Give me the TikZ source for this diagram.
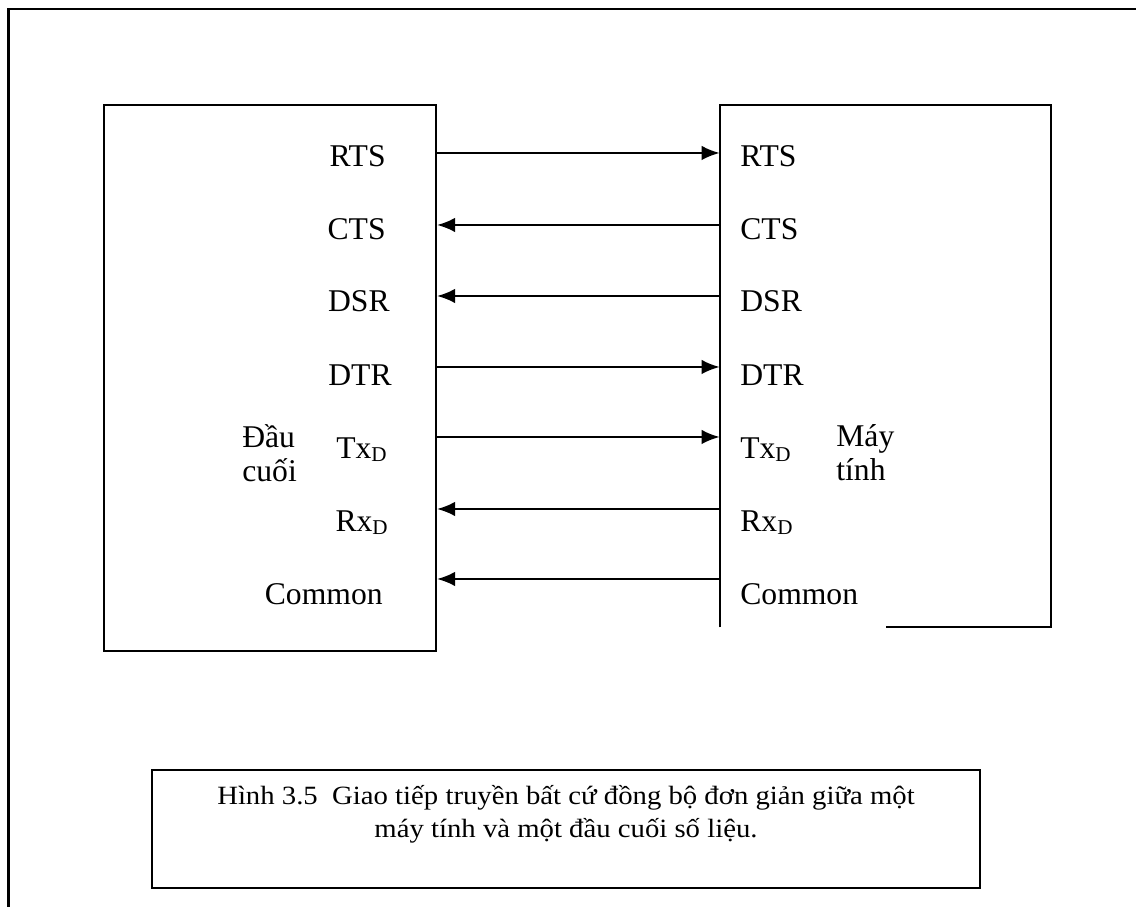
\documentclass[tikz,border=0pt]{standalone}
\usepackage{fontspec}
\setmainfont{Liberation Serif}
\newfontfamily\didafont[FakeStretch=1.09]{Liberation Serif}
\usetikzlibrary{arrows.meta}

% pedice delle linee dati (Tx, Rx)
\newcommand{\pedice}[1]{\raisebox{-1.7pt}{\fontsize{12}{12}\selectfont #1}}

\begin{document}
\begin{tikzpicture}[
    linea/.style={line width=1.2pt},
    freccia/.style={linea,-{Latex[length=3.6mm,width=2.9mm]}},
    segnale/.style={inner sep=0pt,font=\fontsize{18}{22}\selectfont},
    sx/.style={segnale,anchor=base east},
    dx/.style={segnale,anchor=base west},
    blocco/.style={segnale,anchor=west,align=left,font=\fontsize{18}{19.3}\selectfont},
  ]
  \useasboundingbox (0,0) rectangle (22.72,18.14);

  %%%%%%%%%% Cornice %%%%%%%%%%
  \draw[linea] (22.72,17.96) -- (0.17,17.96) -- (0.17,0);

  %%%%%%%%%% Blocchi %%%%%%%%%%
  \node[linea,draw,minimum width=6.64cm,minimum height=10.92cm,inner sep=0pt] (term) at (5.4,10.58) {};
  \node[minimum width=6.62cm,minimum height=10.44cm,inner sep=0pt] (pc) at (17.71,10.82) {};
  \draw[linea] (pc.south west) -- (pc.north west) -- (pc.north east) -- (pc.south east) -- ++(-3.3,0);

  \node[blocco] (dau) at (4.84,9.08) {Đầu\\cuối};
  \node[blocco] (may) at (16.72,9.08) {Máy\\tính};

  %%%%%%%%%% Livelli %%%%%%%%%%
  \coordinate (rts) at (0,15.08);
  \coordinate (cts) at (0,13.64);
  \coordinate (dsr) at (0,12.22);
  \coordinate (dtr) at (0,10.80);
  \coordinate (txd) at (0,9.40);
  \coordinate (rxd) at (0,7.96);
  \coordinate (com) at (0,6.56);

  %%%%%%%%%% Etichette %%%%%%%%%%
  \node[sx] (rts-t) at (7.72,14.80) {RTS};
  \node[sx] (cts-t) at (7.72,13.34) {CTS};
  \node[sx] (dsr-t) at (7.80,11.90) {DSR};
  \node[sx] (dtr-t) at (7.84,10.42) {DTR};
  \node[sx] (txd-t) at (7.74,8.96) {Tx\pedice{D}};
  \node[sx] (rxd-t) at (7.76,7.50) {Rx\pedice{D}};
  \node[sx] (com-t) at (7.66,6.04) {Common};

  \node[dx] (rts-c) at (14.80,14.80) {RTS};
  \node[dx] (cts-c) at (14.80,13.34) {CTS};
  \node[dx] (dsr-c) at (14.80,11.90) {DSR};
  \node[dx] (dtr-c) at (14.80,10.42) {DTR};
  \node[dx] (txd-c) at (14.80,8.96) {Tx\pedice{D}};
  \node[dx] (rxd-c) at (14.80,7.50) {Rx\pedice{D}};
  \node[dx] (com-c) at (14.80,6.04) {Common};

  %%%%%%%%%% Frecce %%%%%%%%%%
  \draw[freccia] (term.east |- rts) -- (pc.west |- rts);
  \draw[freccia] (pc.west |- cts) -- (term.east |- cts);
  \draw[freccia] (pc.west |- dsr) -- (term.east |- dsr);
  \draw[freccia] (term.east |- dtr) -- (pc.west |- dtr);
  \draw[freccia] (term.east |- txd) -- (pc.west |- txd);
  \draw[freccia] (pc.west |- rxd) -- (term.east |- rxd);
  \draw[freccia] (pc.west |- com) -- (term.east |- com);

  %%%%%%%%%% Didascalia %%%%%%%%%%
  \node[linea,draw,minimum width=16.56cm,minimum height=2.36cm,inner sep=0pt] (didascalia) at (11.32,1.56) {};
  \node[anchor=north,align=center,inner sep=0pt,font=\didafont\fontsize{15}{18.8}\selectfont] (testo) at (11.32,2.44)
    {Hình 3.5\ \ Giao tiếp truyền bất cứ đồng bộ đơn giản giữa một\\máy tính và một đầu cuối số liệu.};
\end{tikzpicture}
\end{document}
